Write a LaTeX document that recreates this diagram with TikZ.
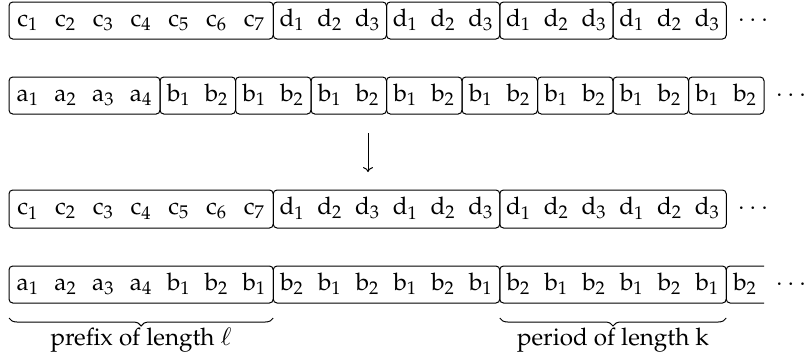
\documentclass[tikz,border=0pt]{standalone}
\usepackage[T1]{fontenc}
\usepackage{mathpazo}
\usetikzlibrary{decorations.pathreplacing,arrows.meta}
\begin{document}
\begin{tikzpicture}[x=0.45pt,y=-0.45pt,
  every node/.style={font=\fontsize{10.9}{13}\selectfont},
  box/.style={draw,line width=0.45pt,rounded corners=1.7pt},
  sym/.style={anchor=base,inner sep=0pt},
  dotsnode/.style={inner sep=0pt},
  brc/.style={decorate,decoration={brace,mirror,amplitude=3.6pt},line width=0.45pt},
  lab/.style={anchor=base,inner sep=0pt},
  arr/.style={line width=0.45pt,-{To[length=2.2pt,width=4.5pt]}}]
\useasboundingbox (0,0) rectangle (809,358);
\def\cw{37.75}
% row 1
\foreach \a/\b in {0/7,7/10,10/13,13/16,16/19}
  \draw[box] ({9+\cw*\a},2) rectangle ({9+\cw*\b},39);
\foreach [count=\i] \s/\n in {c/1,c/2,c/3,c/4,c/5,c/6,c/7,d/1,d/2,d/3,d/1,d/2,d/3,d/1,d/2,d/3,d/1,d/2,d/3}
  \node[sym] (ra\i) at ({9+\cw*(\i-0.5)},26) {$\mathrm{\s}_{\n}$};
\node[dotsnode] (dotsa) at (753,21) {$\cdots$};
% row 2
\foreach \a/\b in {0/4,4/6,6/8,8/10,10/12,12/14,14/16,16/18,18/20}
  \draw[box] ({9+\cw*\a},77) rectangle ({9+\cw*\b},114);
\foreach [count=\i] \s/\n in {a/1,a/2,a/3,a/4,b/1,b/2,b/1,b/2,b/1,b/2,b/1,b/2,b/1,b/2,b/1,b/2,b/1,b/2,b/1,b/2}
  \node[sym] (rb\i) at ({9+\cw*(\i-0.5)},101) {$\mathrm{\s}_{\n}$};
\node[dotsnode] (dotsb) at (791,96) {$\cdots$};
% arrow
\coordinate (arrS) at (368,133);
\coordinate (arrE) at (368,172);
\draw[arr] (arrS) -- (arrE);
% row 3
\foreach \a/\b in {0/7,7/13,13/19}
  \draw[box] ({9+\cw*\a},190) rectangle ({9+\cw*\b},228);
\foreach [count=\i] \s/\n in {c/1,c/2,c/3,c/4,c/5,c/6,c/7,d/1,d/2,d/3,d/1,d/2,d/3,d/1,d/2,d/3,d/1,d/2,d/3}
  \node[sym] (rc\i) at ({9+\cw*(\i-0.5)},214.5) {$\mathrm{\s}_{\n}$};
\node[dotsnode] (dotsc) at (753,209) {$\cdots$};
% row 4
\foreach \a/\b in {0/7,7/13,13/19}
  \draw[box] ({9+\cw*\a},266) rectangle ({9+\cw*\b},303);
\draw[box] ({9+\cw*20},266) -- ({9+\cw*19},266) -- ({9+\cw*19},303) -- ({9+\cw*20},303);
\foreach [count=\i] \s/\n in {a/1,a/2,a/3,a/4,b/1,b/2,b/1,b/2,b/1,b/2,b/1,b/2,b/1,b/2,b/1,b/2,b/1,b/2,b/1,b/2}
  \node[sym] (rd\i) at ({9+\cw*(\i-0.5)},290) {$\mathrm{\s}_{\n}$};
\node[dotsnode] (dotsd) at (791,285) {$\cdots$};
% braces
\coordinate (bAl) at (9,318);
\coordinate (bAr) at ({9+\cw*7},318);
\coordinate (bBl) at ({9+\cw*13},318);
\coordinate (bBr) at ({9+\cw*19},318);
\draw[brc] (bAl) -- (bAr);
\draw[brc] (bBl) -- (bBr);
\node[lab] (labA) at ({9+\cw*3.5},345) {prefix of length $\ell$};
\node[lab] (labB) at ({9+\cw*16},345) {period of length $\mathrm{k}$};
\end{tikzpicture}
\end{document}
